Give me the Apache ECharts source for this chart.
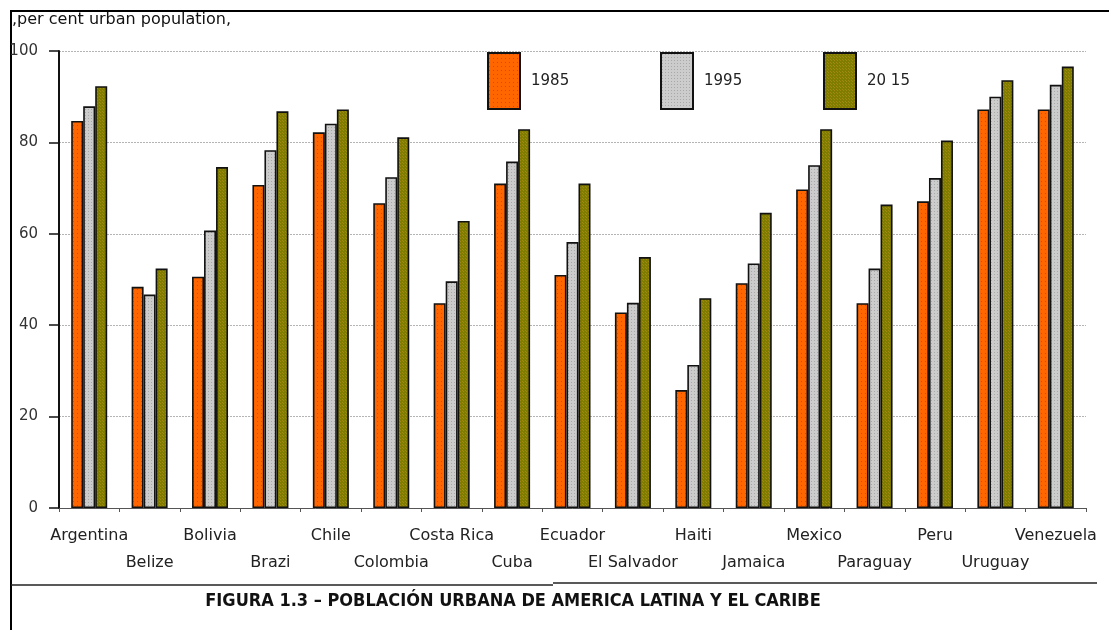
<!DOCTYPE html>
<html>
<head>
<meta charset="utf-8">
<title>Población urbana de America Latina y el Caribe</title>
<script src="https://cdn.jsdelivr.net/npm/echarts@6/dist/echarts.min.js"></script>
<style>
  html, body { margin: 0; padding: 0; background: #ffffff; }
  #chart { width: 1109px; height: 630px; }
</style>
</head>
<body>
<div id="chart"></div>
<script>
// Countries along the x axis
const countries = [
  'Argentina', 'Belize', 'Bolivia', 'Brazi', 'Chile', 'Colombia', 'Costa Rica',
  'Cuba', 'Ecuador', 'El Salvador', 'Haiti', 'Jamaica', 'Mexico', 'Paraguay',
  'Peru', 'Uruguay', 'Venezuela'
];

// Per cent urban population by year
const urban1985 = [84.7, 48.4, 50.6, 70.7, 82.2, 66.7, 44.8, 71.0, 51.0, 42.8, 25.8, 49.2, 69.7, 44.8, 67.1, 87.2, 87.2];
const urban1995 = [87.9, 46.7, 60.7, 78.3, 84.1, 72.4, 49.6, 75.8, 58.2, 44.9, 31.3, 53.5, 75.0, 52.4, 72.2, 90.0, 92.6];
const urban2015 = [92.3, 52.4, 74.6, 86.8, 87.2, 81.1, 62.8, 82.9, 71.0, 54.9, 45.9, 64.6, 82.9, 66.4, 80.4, 93.6, 96.6];

const seriesNames = ['1985', '1995', '20 15'];
const yTicks = [0, 20, 40, 60, 80, 100];

// Small repeating dot textures for the bar fills
function texture(base, dot, step, offsets) {
  const c = document.createElement('canvas');
  c.width = step; c.height = step;
  const g = c.getContext('2d');
  g.fillStyle = base;
  g.fillRect(0, 0, step, step);
  g.fillStyle = dot;
  offsets.forEach(function (o) { g.fillRect(o[0], o[1], 1, 1); });
  return { image: c, repeat: 'repeat' };
}
const fill1985 = texture('#ff6600', '#e8400a', 4, [[1, 1]]);
const fill1995 = texture('#cccccc', '#a8a8a8', 3, [[1, 1]]);
const fill2015 = texture('#807c00', '#a08a10', 3, [[1, 1], [0, 0]]);
const fills = [fill1985, fill1995, fill2015];
const values = [urban1985, urban1995, urban2015];

const font = '"DejaVu Sans", Verdana, sans-serif';

const chart = echarts.init(document.getElementById('chart'), null, { renderer: 'canvas' });

function legendAt(name, left) {
  return {
    data: [name],
    left: left,
    top: 52,
    padding: 0,
    icon: 'rect',
    itemWidth: 32,
    itemHeight: 56,
    itemGap: 0,
    selectedMode: false,
    textStyle: { fontFamily: font, fontSize: 15, color: '#222', padding: [0, 0, 0, 6] }
  };
}

chart.setOption({
  backgroundColor: '#ffffff',
  animation: false,
  grid: { left: 59, right: 23, top: 51, bottom: 122, containLabel: false },
  legend: [
    legendAt(seriesNames[0], 487),
    legendAt(seriesNames[1], 660),
    legendAt(seriesNames[2], 823)
  ],
  xAxis: {
    type: 'category',
    data: countries,
    axisLine: { lineStyle: { color: '#555', width: 1 } },
    axisTick: { show: true, length: 4, lineStyle: { color: '#555' } },
    axisLabel: {
      interval: 0,
      margin: 14,
      fontFamily: font,
      fontSize: 16,
      color: '#222',
      lineHeight: 27,
      formatter: function (v, i) { return i % 2 ? '\n' + v : v; }
    }
  },
  yAxis: {
    type: 'value',
    min: yTicks[0],
    max: yTicks[yTicks.length - 1],
    interval: 20,
    axisLine: { show: true, lineStyle: { color: '#111', width: 2 } },
    axisTick: { show: true, length: 10, lineStyle: { color: '#111', width: 1.5 } },
    axisLabel: { margin: 21, fontFamily: font, fontSize: 15, color: '#333' },
    splitLine: { show: true, lineStyle: { color: '#b4b4b4', type: [2, 1], width: 1 } }
  },
  series: seriesNames.map(function (name, k) {
    return {
      name: name,
      type: 'bar',
      data: values[k],
      barWidth: 12,
      barGap: '0%',
      itemStyle: { color: fills[k], borderColor: '#111', borderWidth: 1.6 }
    };
  }),
  graphic: [
    // page frame
    { type: 'line', shape: { x1: 10, y1: 11, x2: 1109, y2: 11 }, style: { stroke: '#000', lineWidth: 2 } },
    { type: 'line', shape: { x1: 11, y1: 11, x2: 11, y2: 630 }, style: { stroke: '#000', lineWidth: 2 } },
    // rules above the caption
    { type: 'line', shape: { x1: 11, y1: 585, x2: 553, y2: 585 }, style: { stroke: '#222', lineWidth: 1.5 } },
    { type: 'line', shape: { x1: 553, y1: 583, x2: 1097, y2: 583 }, style: { stroke: '#222', lineWidth: 1.5 } },
    {
      type: 'text', left: 12, top: 12,
      style: { text: ',per cent urban population,', font: '16px ' + font, fill: '#111' }
    },
    {
      type: 'text', x: 513, y: 601,
      style: {
        text: 'FIGURA 1.3 – POBLACIÓN URBANA DE AMERICA LATINA Y EL CARIBE',
        font: 'bold 18px "Liberation Sans Narrow", "DejaVu Sans Condensed", Arial, sans-serif',
        fill: '#111', align: 'center', verticalAlign: 'middle'
      }
    }
  ]
});
</script>
</body>
</html>
